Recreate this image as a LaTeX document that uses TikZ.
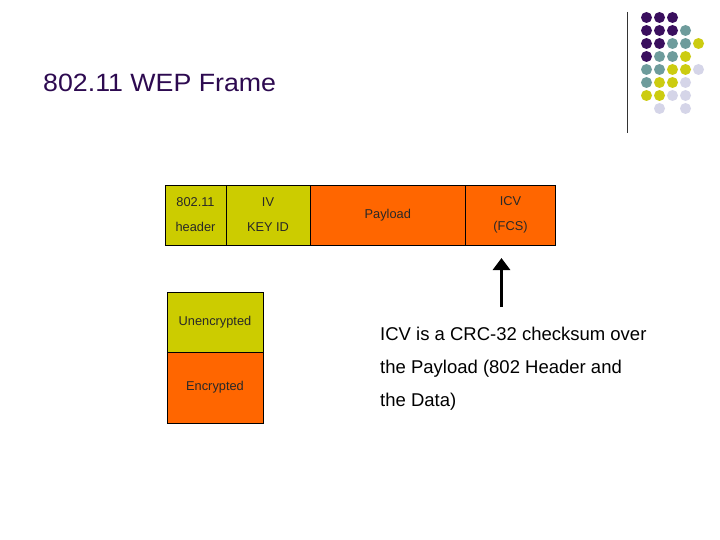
\documentclass[tikz,border=0pt]{standalone}
\usepackage{fontspec}
\setmainfont{Liberation Sans}
\newfontfamily\titlefont[FakeStretch=1.07]{Liberation Sans}
\usetikzlibrary{arrows.meta}
\definecolor{dpurple}{RGB}{58,15,94}
\definecolor{titlepurple}{RGB}{45,10,80}
\definecolor{dteal}{RGB}{110,156,156}
\definecolor{dyellow}{RGB}{204,204,17}
\definecolor{dlav}{RGB}{213,213,232}
\definecolor{boxyellow}{RGB}{204,204,0}
\definecolor{boxorange}{RGB}{255,102,0}
\definecolor{celltext}{RGB}{40,40,40}
\begin{document}
\begin{tikzpicture}[x=1pt,y=-1pt,
  cell/.style={draw=black,line width=0.9pt,minimum height=60pt,inner sep=0pt,
    align=center,text=celltext,font=\fontsize{12.8}{25}\selectfont},
  ydot/.style={circle,fill=#1,minimum size=11pt,inner sep=0pt},
  bodytext/.style={anchor=west,inner sep=0pt,font=\fontsize{18.5}{22}\selectfont,
    text height=13pt,text depth=4pt}]
\useasboundingbox (0,0) rectangle (720,540);
\fill[white] (0,0) rectangle (720,540);
% title
\node[anchor=west,inner sep=0pt,text=titlepurple,font=\titlefont\fontsize{25}{28}\selectfont] (title) at (43,83) {802.11 WEP Frame};
% decoration line
\coordinate (vl1) at (627,12);
\coordinate (vl2) at (627,133);
\draw[line width=1pt,black!80] (vl1) -- (vl2);
% dots
\foreach \r/\c/\col in {0/0/dpurple,0/1/dpurple,0/2/dpurple,
  1/0/dpurple,1/1/dpurple,1/2/dpurple,1/3/dteal,
  2/0/dpurple,2/1/dpurple,2/2/dteal,2/3/dteal,2/4/dyellow,
  3/0/dpurple,3/1/dteal,3/2/dteal,3/3/dyellow,
  4/0/dteal,4/1/dteal,4/2/dyellow,4/3/dyellow,4/4/dlav,
  5/0/dteal,5/1/dyellow,5/2/dyellow,5/3/dlav,
  6/0/dyellow,6/1/dyellow,6/2/dlav,6/3/dlav,
  7/1/dlav,7/3/dlav}
  \node[ydot=\col] (d\r\c) at (646.5+13*\c,17.5+13*\r) {};
% frame row
\node[cell,fill=boxyellow,minimum width=61pt] (hdr) at (195.5,215) {802.11\\header};
\node[cell,fill=boxyellow,minimum width=84pt] (iv) at (268,215) {IV\\KEY ID};
\node[cell,fill=boxorange,minimum width=155.5pt] (pay) at (387.75,215) {Payload};
\node[cell,fill=boxorange,minimum width=90pt] (icv) at (510.5,215) {ICV\\(FCS)};
% legend
\node[cell,fill=boxyellow,minimum width=96pt,minimum height=60pt] (unenc) at (215,322) {Unencrypted};
\node[cell,fill=boxorange,minimum width=96pt,minimum height=71pt] (enc) at (215,387.5) {Encrypted};
% arrow
\coordinate (abot) at (501.5,307);
\coordinate (atop) at (501.5,258);
\draw[line width=3pt,-{Triangle[length=12pt,width=17pt]}] (abot) -- (atop);
% explanation
\node[bodytext] (t1) at (380,336) {ICV is a CRC-32 checksum over};
\node[bodytext] (t2) at (380,369) {the Payload (802 Header and};
\node[bodytext] (t3) at (380,402) {the Data)};
\end{tikzpicture}
\end{document}
